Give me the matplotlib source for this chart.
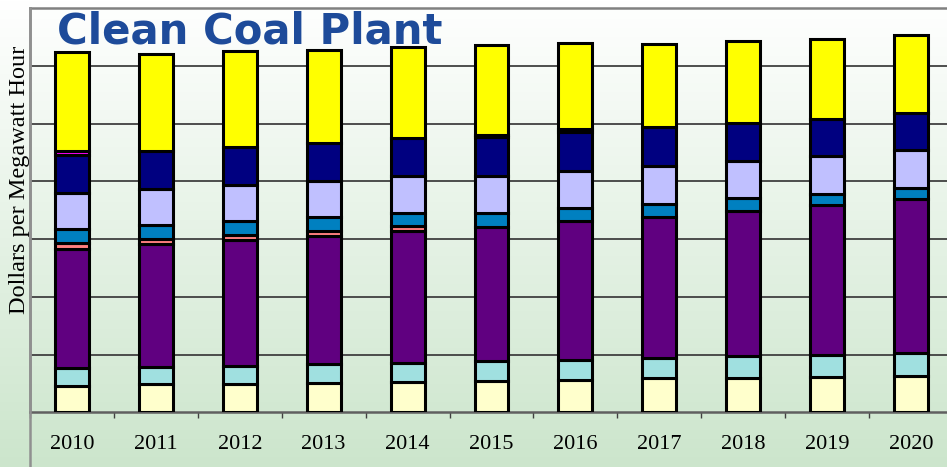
import numpy as np
import matplotlib
matplotlib.use("Agg")
import matplotlib.pyplot as plt
from matplotlib.lines import Line2D

years = ["2010", "2011", "2012", "2013", "2014", "2015", "2016", "2017", "2018", "2019", "2020"]

# stacked components, bottom to top ($/MWh)
light_yellow = [4.6, 4.85, 4.9, 5.1, 5.3, 5.4, 5.6, 5.9, 6.0, 6.15, 6.3]
light_cyan   = [3.0, 3.0, 3.2, 3.2, 3.3, 3.45, 3.45, 3.45, 3.75, 3.75, 3.9]
purple       = [20.65, 21.25, 21.7, 22.3, 22.8, 23.25, 24.1, 24.5, 25.1, 25.95, 26.7]
salmon       = [1.0, 0.87, 0.87, 0.87, 0.87, 0.0, 0.0, 0.0, 0.0, 0.0, 0.0]
blue         = [2.48, 2.48, 2.42, 2.3, 2.3, 2.42, 2.25, 2.3, 2.2, 2.03, 1.85]
lavender     = [6.28, 6.23, 6.28, 6.3, 6.35, 6.4, 6.35, 6.5, 6.5, 6.45, 6.6]
navy         = [6.5, 6.6, 6.65, 6.6, 6.6, 6.7, 6.7, 6.75, 6.6, 6.5, 6.5]
magenta      = [0.7, 0.0, 0.0, 0.0, 0.0, 0.45, 0.57, 0.0, 0.0, 0.0, 0.0]
yellow       = [17.1, 16.75, 16.45, 16.1, 15.7, 15.45, 14.95, 14.45, 14.2, 13.85, 13.4]

series = [light_yellow, light_cyan, purple, salmon, blue, lavender, navy, magenta, yellow]
colors = ["#FFFFCC", "#A0E0E0", "#600080", "#FF8080", "#0080C0",
          "#C0C0FF", "#000080", "#FF00FF", "#FFFF00"]

W, H = 947, 467
fig = plt.figure(figsize=(W / 100, H / 100), dpi=100)

# gradient background
bg = fig.add_axes([0, 0, 1, 1], zorder=-10)
grad = np.linspace(0, 1, 256)[:, None]
top = np.array([1.0, 1.0, 1.0])
bot = np.array([0.80, 0.90, 0.80])
img = top[None, None, :] * (1 - grad[..., None]) + bot[None, None, :] * grad[..., None]
bg.imshow(img, aspect="auto", extent=[0, 1, 0, 1], origin="upper")
bg.axis("off")

x0, x1 = 30, 953
y_top, y_base = 8, 412.3
ax = fig.add_axes([x0 / W, (H - y_base) / H, (x1 - x0) / W, (y_base - y_top) / H])
ax.set_facecolor("none")

x = np.arange(len(years))
bottom = np.zeros(len(years))
for vals, c in zip(series, colors):
    v = np.array(vals)
    mask = v > 0
    ax.bar(x[mask], v[mask], bottom=bottom[mask], width=0.405, color=c,
           edgecolor="black", linewidth=2.2, zorder=3)
    bottom += v

ax.set_xlim(-0.5, len(years) - 0.5)
ax.set_ylim(0, 70)
ax.set_yticks([10, 20, 30, 40, 50, 60])
ax.set_yticklabels([])
ax.tick_params(axis="y", length=0)
ax.yaxis.grid(True, color="#404040", linewidth=1.3, zorder=1)
ax.set_axisbelow(True)

ax.set_xticks(x)
ax.set_xticklabels(years, fontfamily="Liberation Serif", fontsize=16)
ax.tick_params(axis="x", length=0, pad=16)
ax.set_xticks(np.arange(-0.5, len(years) + 0.5, 1), minor=True)
ax.tick_params(axis="x", which="minor", length=4, width=1, color="#404040", direction="out")

for s in ["left", "top", "bottom"]:
    ax.spines[s].set_color("#808080")
    ax.spines[s].set_linewidth(1.8)
ax.spines["bottom"].set_color("#606060")
ax.spines["right"].set_visible(False)

# outer frame line continuing down on the left
fig.add_artist(Line2D([x0 / W, x0 / W], [0, (H - y_top) / H], color="#909090", linewidth=1.8,
                      transform=fig.transFigure))

fig.text(20 / W, (H - 180) / H, "Dollars per Megawatt Hour", rotation=90,
         ha="center", va="center", fontfamily="Liberation Serif", fontsize=17.5)

fig.text(57 / W, (H - 43.5) / H, "Clean Coal Plant", ha="left", va="baseline",
         fontfamily="DejaVu Sans", fontweight="bold", fontsize=30.2, color="#1E4B9A")

fig.savefig("out.png", dpi=100)
